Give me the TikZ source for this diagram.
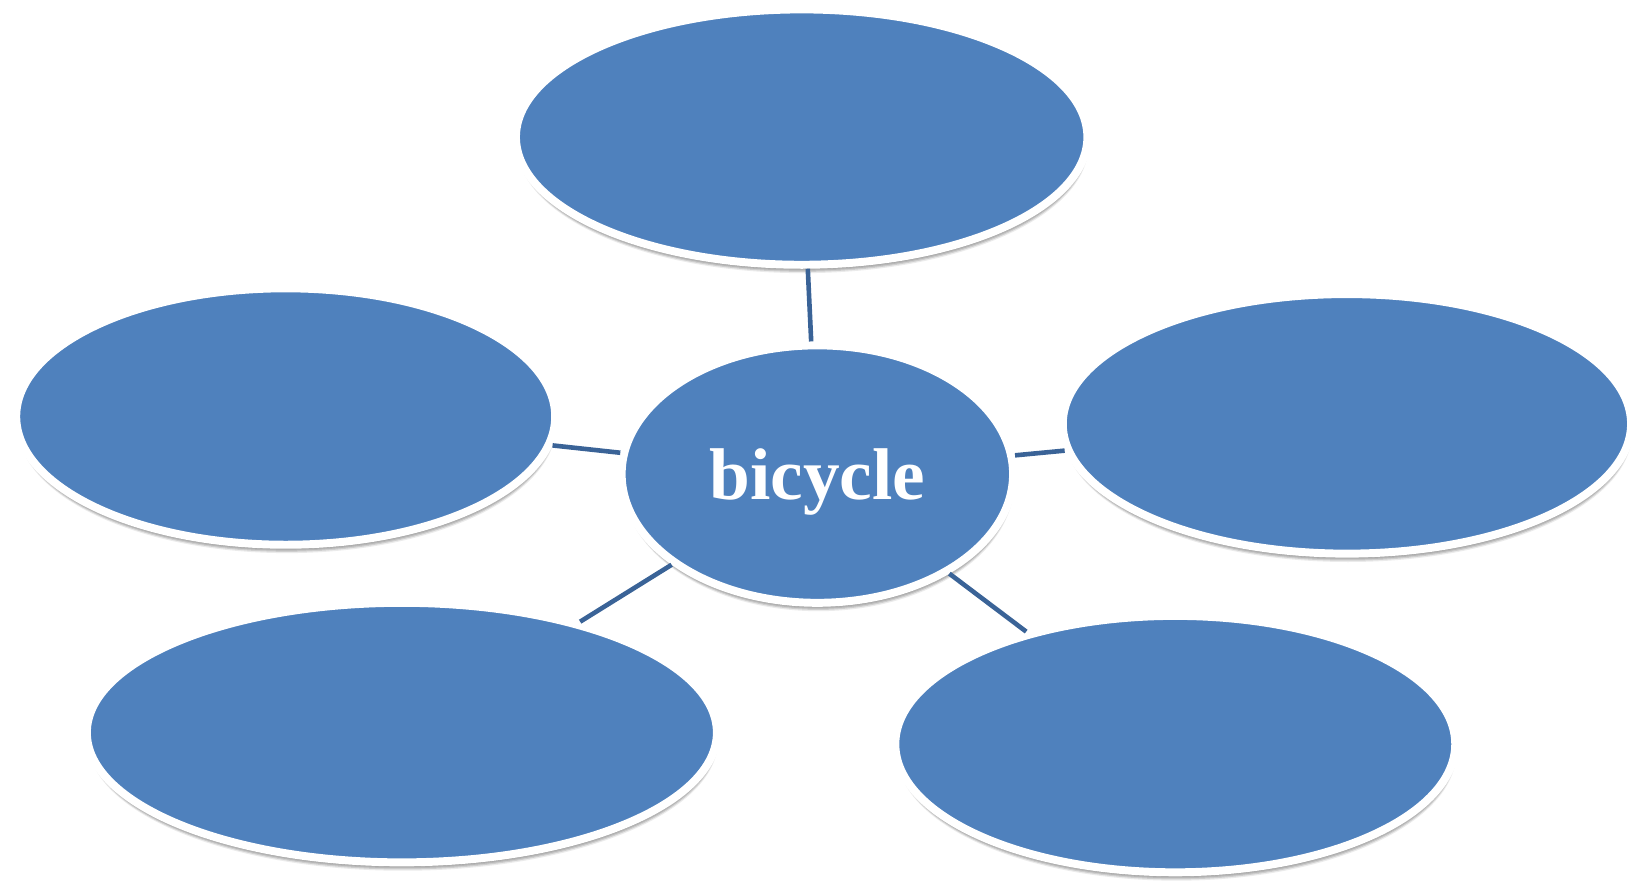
\documentclass[tikz,border=0pt]{standalone}
\usepackage{fontspec}
\setmainfont{Liberation Serif}
\usetikzlibrary{shapes.geometric,shadows}
\definecolor{bubble}{HTML}{4F81BD}
\definecolor{linkc}{HTML}{3A6397}
\tikzset{
  bubble/.style={ellipse, fill=bubble, draw=white, line width=3.8pt, inner sep=0pt,
    drop shadow={opacity=0.10, shadow xshift=0.2pt, shadow yshift=-2.2pt, fill=black},
    drop shadow={opacity=0.12, shadow xshift=0.3pt, shadow yshift=-2.8pt, fill=black},
    drop shadow={opacity=0.12, shadow xshift=0.4pt, shadow yshift=-3.4pt, fill=black},
    drop shadow={opacity=0.08, shadow xshift=0.5pt, shadow yshift=-4.0pt, fill=black}},
  link/.style={draw=linkc, line width=2.2pt}
}
\begin{document}
\begin{tikzpicture}[x=0.5pt,y=-0.5pt]
\useasboundingbox (0,0) rectangle (1568,844);
\node[bubble, minimum width=273pt, minimum height=122pt] (top) at (766,131) {};
\node[bubble, minimum width=257.5pt, minimum height=122.5pt] (left) at (273,398) {};
\node[bubble, minimum width=271.5pt, minimum height=124pt] (right) at (1287,405) {};
\node[bubble, minimum width=301pt, minimum height=124pt] (bl) at (384,700) {};
\node[bubble, minimum width=267.5pt, minimum height=122.5pt] (br) at (1123,711) {};
\node[bubble, minimum width=187pt, minimum height=123pt] (c) at (781,453) {};
\node[anchor=base, text=white, font=\fontsize{35}{40}\selectfont\bfseries, inner sep=0pt] (lbl) at (781,477) {bicycle};
\draw[link] (c) -- (top);
\draw[link] (c) -- (left);
\draw[link] (c) -- (right);
\draw[link] (c) -- (bl);
\draw[link] (c) -- (br);
\end{tikzpicture}
\end{document}
